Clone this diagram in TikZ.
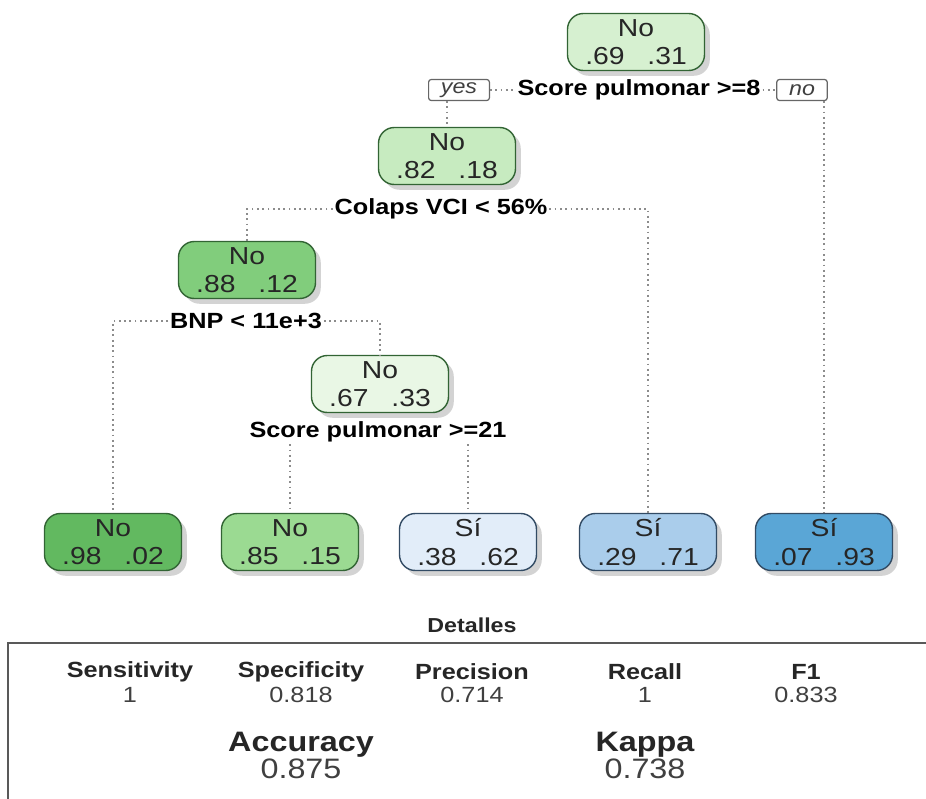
\documentclass[tikz,border=0pt]{standalone}
\usepackage{fontspec}
\setmainfont{Liberation Sans}[FakeStretch=1.15]
\usetikzlibrary{shadows}
\definecolor{rootgreen}{RGB}{214,240,208}
\definecolor{nodegreen}{RGB}{199,235,192}
\definecolor{midgreen}{RGB}{129,205,124}
\definecolor{palegreen}{RGB}{233,247,229}
\definecolor{darkgreen}{RGB}{98,185,96}
\definecolor{leafgreen}{RGB}{155,218,146}
\definecolor{paleblue}{RGB}{226,237,249}
\definecolor{midblue}{RGB}{170,205,235}
\definecolor{deepblue}{RGB}{90,166,214}
\definecolor{greenline}{RGB}{50,100,52}
\definecolor{blueline}{RGB}{50,75,100}
\definecolor{splitgray}{RGB}{140,140,140}

\tikzset{
    treenode/.style={rounded corners=9pt, line width=0.8pt, align=center,
        minimum width=2.74cm, minimum height=1.14cm, inner sep=0pt,
        text=black!85, font=\fontsize{14}{16}\selectfont,
        drop shadow={shadow xshift=3pt, shadow yshift=-3pt, opacity=0.35}},
    greennode/.style={treenode, draw=greenline},
    bluenode/.style={treenode, draw=blueline},
    splitlabel/.style={font=\bfseries\fontsize{12.5}{14}\selectfont, inner sep=1pt},
    answerbox/.style={draw=black!60, line width=0.7pt, rounded corners=1.5pt, fill=white,
        minimum height=0.42cm, inner xsep=7pt, inner ysep=1pt,
        font=\itshape\fontsize{11.5}{12}\selectfont, text=black!75},
    branch/.style={dotted, line width=1pt, draw=splitgray},
    metric/.style={font=\bfseries\fontsize{12.5}{13}\selectfont, text=black!85},
    metricval/.style={font=\fontsize{12.5}{13}\selectfont, text=black!75},
    bigmetric/.style={font=\bfseries\fontsize{16}{17}\selectfont, text=black!85},
    bigval/.style={font=\fontsize{16}{17}\selectfont, text=black!75}
}

\begin{document}
\begin{tikzpicture}[x=0.2mm, y=-0.2mm]
    \useasboundingbox (0,0) rectangle (926,799);

    % inner nodes
    \node[greennode, fill=rootgreen] (root) at (636,42) {No\\.69\hspace{13pt}.31};
    \node[greennode, fill=nodegreen] (n2) at (447,156) {No\\.82\hspace{13pt}.18};
    \node[greennode, fill=midgreen] (n3) at (247,270) {No\\.88\hspace{13pt}.12};
    \node[greennode, fill=palegreen] (n4) at (380,384) {No\\.67\hspace{13pt}.33};

    % leaves
    \node[greennode, fill=darkgreen] (lf1) at (113,542) {No\\.98\hspace{13pt}.02};
    \node[greennode, fill=leafgreen] (lf2) at (290,542) {No\\.85\hspace{13pt}.15};
    \node[bluenode, fill=paleblue] (lf3) at (468,542) {Sí\\.38\hspace{13pt}.62};
    \node[bluenode, fill=midblue] (lf4) at (648,542) {Sí\\.29\hspace{13pt}.71};
    \node[bluenode, fill=deepblue] (lf5) at (824,542) {Sí\\.07\hspace{13pt}.93};

    % split labels
    \node[splitlabel] (sp1) at (639,90) {Score pulmonar >=8};
    \node[answerbox] (yes) at (459,90) {yes};
    \node[answerbox] (no) at (802,90) {no};
    \node[splitlabel] (sp2) at (441,209) {Colaps VCI < 56\%};
    \node[splitlabel] (sp3) at (246,321) {BNP < 11e+3};
    \node[splitlabel] (sp4) at (378,432) {Score pulmonar >=21};

    % branches
    \draw[branch] (yes) -- (sp1);
    \draw[branch] (sp1) -- (no);
    \draw[branch] (yes.south -| n2) -- (n2.north);
    \draw[branch] (no.south -| lf5) -- (lf5.north);
    \draw[branch] (sp2.west) -| (n3.north);
    \draw[branch] (sp2.east) -| (lf4.north);
    \draw[branch] (sp3.west) -| (lf1.north);
    \draw[branch] (sp3.east) -| (n4.north);
    \draw[branch] (sp4.south -| lf2) -- (lf2.north);
    \draw[branch] (sp4.south -| lf3) -- (lf3.north);

    % details table
    \node[font=\bfseries\fontsize{11.5}{12}\selectfont, text=black!85] (title) at (472,625) {Detalles};
    \draw[line width=1.2pt, black!65] (8,799) -- (8,643) -- (926,643);
    \foreach \name/\val/\x [count=\i] in {Sensitivity/1/130, Specificity/0.818/301,
        Precision/0.714/472, Recall/1/645, F1/0.833/806} {
        \node[metric] (hd\i) at (\x,672) {\name};
        \node[metricval] (vl\i) at (\x,695) {\val};
    }
    \node[bigmetric] (acc) at (301,745) {Accuracy};
    \node[bigval] (accval) at (301,769) {0.875};
    \node[bigmetric] (kap) at (645,745) {Kappa};
    \node[bigval] (kapval) at (645,769) {0.738};
\end{tikzpicture}
\end{document}
